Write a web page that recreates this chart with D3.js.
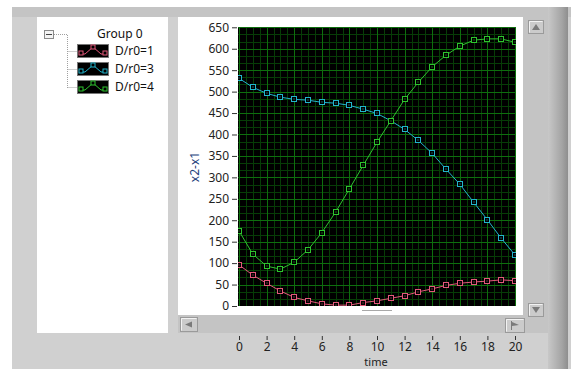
<!DOCTYPE html>
<html>
<head>
<meta charset="utf-8">
<script src="https://cdn.jsdelivr.net/npm/d3@7"></script>
<style>
  html, body { margin: 0; padding: 0; background: #fff; }
  svg { display: block; font-family: "Noto Sans", sans-serif; }
</style>
</head>
<body>
<div id="chart"></div>
<script>
// data
const times = [0, 1, 2, 3, 4, 5, 6, 7, 8, 9, 10, 11, 12, 13, 14, 15, 16, 17, 18, 19, 20];
const seriesNames = ['D/r0=1', 'D/r0=3', 'D/r0=4'];
const dr1 = [96, 72, 53, 35, 20, 12, 5, 2, 2, 8, 12, 18, 24, 33, 40, 48, 53, 56, 58, 61, 59];
const dr3 = [531, 510, 496, 487, 482, 480, 475, 473, 468, 459, 449, 432, 412, 386, 356, 319, 284, 242, 201, 158, 119];
const dr4 = [175, 121, 93, 86, 102, 131, 171, 219, 273, 328, 382, 432, 482, 522, 558, 585, 606, 620, 623, 623, 615];
const yTicks = [0, 50, 100, 150, 200, 250, 300, 350, 400, 450, 500, 550, 600, 650];
const xTicks = [0, 2, 4, 6, 8, 10, 12, 14, 16, 18, 20];
const colors = ['#e2587a', '#22b4cc', '#2ec42e'];

const W = 571, H = 369;
const plot = { left: 238, top: 27, right: 516, bottom: 306 };

const svg = d3.select('#chart').append('svg')
  .attr('width', W).attr('height', H);

const defs = svg.append('defs');
const grad = defs.append('linearGradient').attr('id', 'edge');
grad.append('stop').attr('offset', '0%').attr('stop-color', '#c8c8c8');
grad.append('stop').attr('offset', '70%').attr('stop-color', '#a4a4a4');
grad.append('stop').attr('offset', '100%').attr('stop-color', '#8e8e8e');
defs.append('clipPath').attr('id', 'plotclip').append('rect')
  .attr('x', plot.left).attr('y', plot.top)
  .attr('width', plot.right - plot.left).attr('height', plot.bottom - plot.top);

// panel chrome
svg.append('rect').attr('x', 12).attr('y', 7).attr('width', W - 12).attr('height', H - 7).attr('fill', '#d0d0d0');
svg.append('rect').attr('x', 12).attr('y', 7).attr('width', W - 12).attr('height', 10).attr('fill', '#c4c4c4');
svg.append('rect').attr('x', 548).attr('y', 7).attr('width', 20).attr('height', H - 7).attr('fill', 'url(#edge)');
svg.append('rect').attr('x', 37).attr('y', 17).attr('width', 131).attr('height', 316).attr('fill', '#fff');
svg.append('rect').attr('x', 178).attr('y', 17).attr('width', 345).attr('height', 298).attr('fill', '#fff');

// scrollbars
svg.append('rect').attr('x', 523).attr('y', 17).attr('width', 25).attr('height', 316).attr('fill', '#c4c4c4');
svg.append('rect').attr('x', 178).attr('y', 315).attr('width', 345).attr('height', 18).attr('fill', '#c4c4c4');

function button(x, y, w, h) {
  const g = svg.append('g');
  g.append('rect').attr('x', x).attr('y', y).attr('width', w).attr('height', h)
    .attr('fill', '#cbcbcb').attr('stroke', '#9a9a9a');
  g.append('path').attr('d', `M${x + 1},${y + h - 1}V${y + 1}H${x + w - 1}`)
    .attr('fill', 'none').attr('stroke', '#f2f2f2');
  return g;
}
button(528.5, 20.5, 15, 13).append('path').attr('d', 'M532,30L536,24L540,30Z').attr('fill', '#7a7a7a');
button(528.5, 303.5, 15, 13).append('path').attr('d', 'M532,307L536,313L540,307Z').attr('fill', '#7a7a7a');
button(180.5, 317.5, 17, 14).append('path').attr('d', 'M185,324.5L192,321.5V327.5Z').attr('fill', '#7a7a7a');
const rb = button(505.5, 318.5, 19, 14);
rb.append('path').attr('d', 'M512,322L519,325L512,326Z').attr('fill', '#7a7a7a');
rb.append('line').attr('x1', 511.5).attr('x2', 511.5).attr('y1', 321).attr('y2', 330).attr('stroke', '#7a7a7a');

// scales
const x = d3.scaleLinear().domain([0, 20]).range([239, 515]);
const y = d3.scaleLinear().domain([0, 650]).range([306, 27.3]);

// plot background and grid
svg.append('rect').attr('x', plot.left).attr('y', plot.top)
  .attr('width', plot.right - plot.left).attr('height', plot.bottom - plot.top).attr('fill', '#000');

const grid = svg.append('g').attr('clip-path', 'url(#plotclip)');
const minorX = d3.range(0, 20.01, 0.5).filter(v => v % 2 !== 0);
const minorY = d3.range(0, 650.1, 50 / 3).filter(v => Math.abs(v / 50 - Math.round(v / 50)) > 0.01);
grid.selectAll('.mx').data(minorX).enter().append('line')
  .attr('x1', d => Math.round(x(d)) + 0.5).attr('x2', d => Math.round(x(d)) + 0.5)
  .attr('y1', plot.top).attr('y2', plot.bottom).attr('stroke', '#073d07');
grid.selectAll('.my').data(minorY).enter().append('line')
  .attr('y1', d => Math.round(y(d)) + 0.5).attr('y2', d => Math.round(y(d)) + 0.5)
  .attr('x1', plot.left).attr('x2', plot.right).attr('stroke', '#073d07');
grid.selectAll('.Mx').data(xTicks).enter().append('line')
  .attr('x1', d => Math.round(x(d)) + 0.5).attr('x2', d => Math.round(x(d)) + 0.5)
  .attr('y1', plot.top).attr('y2', plot.bottom).attr('stroke', '#0e6e0e');
grid.selectAll('.My').data(yTicks).enter().append('line')
  .attr('y1', d => Math.round(y(d)) + 0.5).attr('y2', d => Math.round(y(d)) + 0.5)
  .attr('x1', plot.left).attr('x2', plot.right).attr('stroke', '#0e6e0e');

// series
const allSeries = [dr1, dr3, dr4];
const line = d3.line().x((d, i) => x(times[i])).y(d => y(d));
const traces = svg.append('g').attr('clip-path', 'url(#plotclip)');
allSeries.forEach((vals, s) => {
  traces.append('path').datum(vals).attr('d', line)
    .attr('fill', 'none').attr('stroke', colors[s]).attr('stroke-width', 1);
  const pts = traces.append('g').selectAll('g').data(vals).enter().append('g')
    .attr('transform', (d, i) => `translate(${Math.round(x(times[i]))},${Math.round(y(d))})`);
  pts.append('rect').attr('x', -2.5).attr('y', -2.5).attr('width', 5).attr('height', 5)
    .attr('fill', '#000').attr('stroke', colors[s]);
  pts.append('rect').attr('x', -0.5).attr('y', -0.5).attr('width', 1).attr('height', 1)
    .attr('fill', colors[s]);
});

// small line under plot
svg.append('line').attr('x1', 362).attr('x2', 392).attr('y1', 310.5).attr('y2', 310.5).attr('stroke', '#a8a8a8');

// y axis
const yAxis = svg.append('g').attr('transform', 'translate(237,0)')
  .call(d3.axisLeft(y).tickValues(yTicks).tickSize(5).tickPadding(3));
yAxis.select('.domain').remove();
yAxis.selectAll('line').attr('stroke', '#333');
yAxis.selectAll('text').attr('fill', '#222').style('font-size', '12px')
  .style('font-family', '"Noto Sans", sans-serif');

svg.append('text').attr('transform', 'translate(199,167) rotate(-90)')
  .attr('text-anchor', 'middle').attr('fill', '#23407a').style('font-size', '12px')
  .text('x2-x1');

// x axis below the scrollbar
const xAxis = svg.append('g').attr('transform', 'translate(0,336)')
  .call(d3.axisBottom(x).tickValues(xTicks).tickSize(4).tickPadding(2));
xAxis.select('.domain').remove();
xAxis.selectAll('line').attr('stroke', '#333');
xAxis.selectAll('text').attr('fill', '#222').style('font-size', '12px')
  .style('font-family', '"Noto Sans", sans-serif');

svg.append('text').attr('x', 376).attr('y', 365.5).attr('text-anchor', 'middle')
  .attr('fill', '#222').style('font-size', '11px').text('time');

// legend tree
const lg = svg.append('g');
lg.append('rect').attr('x', 44.5).attr('y', 30.5).attr('width', 9).attr('height', 8)
  .attr('fill', '#f4f4f4').attr('stroke', '#8a8a8a');
lg.append('line').attr('x1', 46).attr('x2', 52).attr('y1', 34.5).attr('y2', 34.5).attr('stroke', '#444');
lg.append('path').attr('d', 'M54,34.5H67.5V88.5')
  .attr('fill', 'none').attr('stroke', '#a0a0a0').attr('stroke-dasharray', '1,1');
lg.append('text').attr('x', 97).attr('y', 38).attr('fill', '#111').style('font-size', '12px').text('Group 0');

const rowY = [51, 69, 87];
seriesNames.forEach((name, i) => {
  const cy = rowY[i];
  lg.append('path').attr('d', `M67.5,${cy + 0.5}H77`)
    .attr('stroke', '#a0a0a0').attr('stroke-dasharray', '1,1');
  lg.append('rect').attr('x', 77.5).attr('y', cy - 6.5).attr('width', 31).attr('height', 13)
    .attr('fill', '#000').attr('stroke', '#777');
  lg.append('path').attr('d', `M80,${cy + 3}L85,${cy + 3}L93,${cy - 4}L101,${cy + 3}L106,${cy + 3}`)
    .attr('fill', 'none').attr('stroke', colors[i]);
  [[81, cy + 2], [93, cy - 4], [105, cy + 2]].forEach(p => {
    lg.append('rect').attr('x', p[0] - 2).attr('y', p[1] - 2).attr('width', 4).attr('height', 4)
      .attr('fill', '#000').attr('stroke', colors[i]);
  });
  lg.append('text').attr('x', 115).attr('y', cy + 4).attr('fill', '#111')
    .style('font-size', '12px').text(name);
});
</script>
</body>
</html>
